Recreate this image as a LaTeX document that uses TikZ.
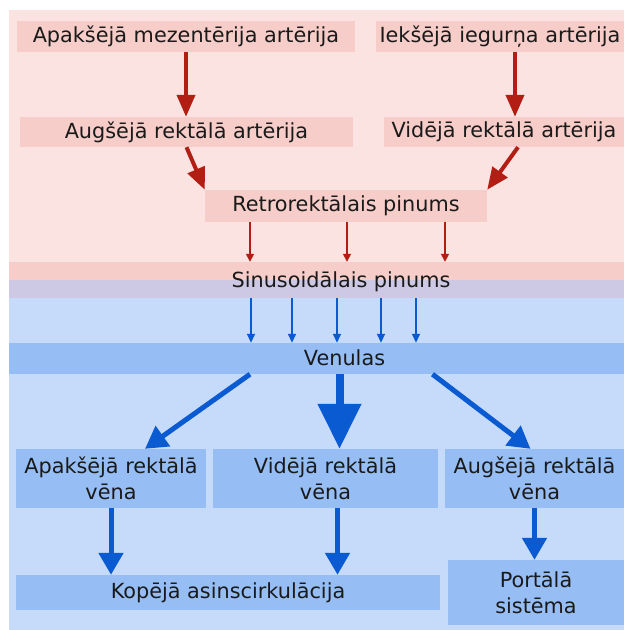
\documentclass[tikz,border=0pt]{standalone}
\usepackage{fontspec}
\setmainfont{DejaVu Sans}
\usepackage{xcolor}
\usepackage{tikz}
\usetikzlibrary{arrows.meta,positioning}

\definecolor{pinkbg}{RGB}{250,227,224}
\definecolor{pinkbox}{RGB}{246,205,200}
\definecolor{sinpurple}{RGB}{205,200,228}
\definecolor{bluebg}{RGB}{198,218,250}
\definecolor{bluebox}{RGB}{150,190,245}
\definecolor{redarr}{RGB}{178,30,20}
\definecolor{bluearr}{RGB}{10,90,210}
\definecolor{txt}{RGB}{26,26,26}

\begin{document}
\begin{tikzpicture}[
        x=1pt, y=-1pt,
        every node/.style={font=\fontsize{20.8}{26}\selectfont, text=txt, inner sep=0pt},
        artbox/.style={rectangle, fill=pinkbox, text centered},
        venbox/.style={rectangle, fill=bluebox, align=center},
        band/.style={rectangle, minimum width=615pt},
        redarrow/.style={-{Triangle[length=22pt,width=18pt]}, line width=4pt, draw=redarr},
        thinred/.style={-{Triangle[length=8pt,width=8pt]}, line width=1.5pt, draw=redarr},
        bluearrow/.style={-{Triangle[length=22pt,width=24pt]}, line width=5pt, draw=bluearr},
        thinblue/.style={-{Triangle[length=9pt,width=8pt]}, line width=1.5pt, draw=bluearr},
        bigblue/.style={-{Triangle[length=45pt,width=42pt]}, line width=8pt, draw=bluearr}
    ]
    \useasboundingbox (0,0) rectangle (624,630);

    % Backgrounds
    \fill[pinkbg] (9,10) rectangle (624,281);
    \fill[bluebg] (9,298) rectangle (624,630);

    % Arteries
    \node[artbox, minimum width=338pt, minimum height=31pt] (a1) at (186,36.5) {Apakšējā mezentērija artērija};
    \node[artbox, minimum width=248pt, minimum height=31pt] (a2) at (500,36.5) {Iekšējā iegurņa artērija};
    \node[artbox, minimum width=333pt, minimum height=30pt] (b1) at (186.5,132) {Augšējā rektālā artērija};
    \node[artbox, minimum width=240pt, minimum height=30pt] (b2) at (504,132) {Vidējā rektālā artērija};
    \node[artbox, minimum width=282pt, minimum height=32pt] (retro) at (346,206) {Retrorektālais pinums};

    % Plexus bands
    \node[band, fill=sinpurple, minimum height=36pt] (sband) at (316.5,280) {};
    \fill[pinkbox] (sband.north west) rectangle (sband.east);
    \node (stext) at (341,282) {Sinusoidālais pinums};
    \node[band, fill=bluebox, minimum height=31pt] (vband) at (316.5,358.5) {};
    \node (vtext) at (344.5,358) {Venulas};

    % Veins
    \node[venbox, minimum width=190pt, minimum height=59pt] (c1) at (111,478.5) {Apakšējā rektālā\\vēna};
    \node[venbox, minimum width=225pt, minimum height=59pt] (c2) at (325.5,478.5) {Vidējā rektālā\\vēna};
    \node[venbox, minimum width=179pt, minimum height=59pt] (c3) at (534.5,478.5) {Augšējā rektālā\\vēna};
    \node[venbox, minimum width=424pt, minimum height=35pt] (kop) at (228,592.5) {Kopējā asinscirkulācija};
    \node[venbox, minimum width=176pt, minimum height=65pt] (port) at (536,592.5) {Portālā\\sistēma};

    % Arrows - arterial side
    \draw[redarrow] (a1.south) -- (a1.south |- b1.north);
    \draw[redarrow] ([xshift=15pt]a2.south) -- ([xshift=15pt]a2.south |- b2.north);
    \draw[redarrow] (b1.south) -- (retro.north west);
    \draw[redarrow] ([xshift=14pt]b2.south) -- (retro.north east);
    \foreach \dx in {-96,1,99}
        \draw[thinred] ([xshift=\dx pt]retro.south) -- ([xshift=\dx pt]retro.south |- sband.north);

    % Arrows - venous side
    \foreach \x in {251,292,337,381,416}
        \draw[thinblue] (sband.south -| \x,0) -- (vband.north -| \x,0);
    \draw[bluearrow] ([xshift=139pt]c1.north |- vband.south) -- ([xshift=34pt]c1.north);
    \draw[bigblue] ([xshift=14pt]c2.north |- vband.south) -- ([xshift=14pt]c2.north);
    \draw[bluearrow] ([xshift=-102pt]c3.north |- vband.south) -- ([xshift=-4pt]c3.north);

    \draw[bluearrow] (c1.south) -- (c1.south |- kop.north);
    \draw[bluearrow] ([xshift=12pt]c2.south) -- ([xshift=12pt]c2.south |- kop.north);
    \draw[bluearrow] (c3.south) -- (c3.south |- port.north);

\end{tikzpicture}
\end{document}
